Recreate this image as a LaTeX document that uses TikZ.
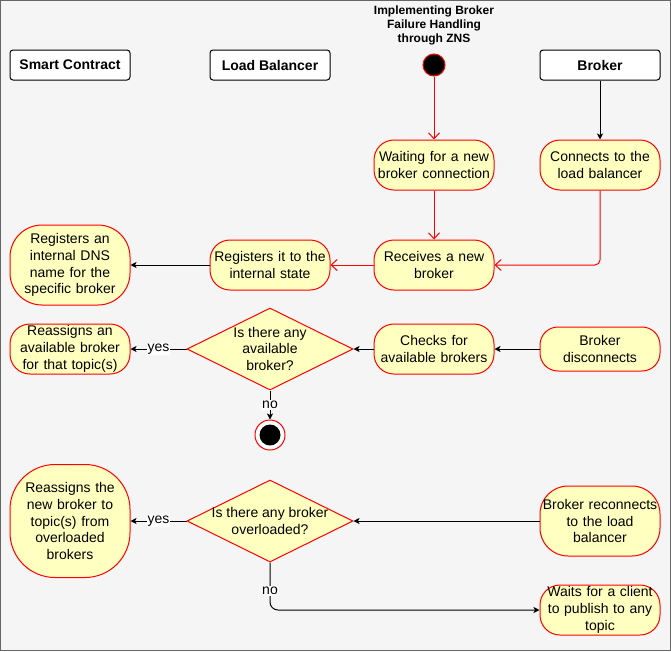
\documentclass[tikz,border=0pt]{standalone}
\usepackage{fontspec}
\setmainfont{Liberation Sans}
\usepackage{xcolor}
\usetikzlibrary{positioning,shapes.geometric,arrows.meta}
\definecolor{actfill}{HTML}{FFFFC0}
\definecolor{bgfill}{HTML}{F5F5F5}
\definecolor{framegray}{HTML}{666666}
\newcommand{\dtext}[1]{\smash{\raisebox{-3.5pt}{\parbox[c]{140pt}{\centering #1}}}}

\begin{document}
\begin{tikzpicture}[x=1pt,y=-1pt,line width=1pt,
act/.style={draw=red,fill=actfill,rectangle,rounded corners=20pt,minimum width=120pt,
    minimum height=50pt,text width=118pt,align=center,inner sep=0pt,
    font=\fontsize{14}{16.8}\selectfont},
lane/.style={draw=black,fill=white,rectangle,rounded corners=3pt,minimum width=120pt,
    minimum height=30pt,inner sep=0pt,font=\bfseries\fontsize{14}{16.8}\selectfont},
decision/.style={draw=red,fill=actfill,diamond,shape aspect=2,minimum width=166pt,
    minimum height=82pt,inner sep=0pt,font=\fontsize{14}{16.8}\selectfont},
flow/.style={draw=red,-{Straight Barb[length=6pt,width=11pt,line width=1pt]}},
link/.style={draw=black,-{Stealth[length=6pt,width=6pt,inset=1.5pt]}},
edgelabel/.style={fill=white,inner sep=1pt,font=\fontsize{14}{16.8}\selectfont}]
\useasboundingbox (0,0) rectangle (671,651);
\fill[bgfill] (0,0) rectangle (671,651);
\draw[framegray] (0.5,0.5) rectangle (670.5,650.5);

% swimlane headers
\node (contract) [lane] at (70,65) {Smart Contract};
\node (balancer) [lane] at (270,65) {Load Balancer};
\node (broker) [lane] at (600,65) {Broker};
\node (title) [align=center,font=\bfseries\fontsize{12}{14}\selectfont] at (434,25)
    {Implementing Broker\\Failure Handling\\through ZNS};
\node (start) [circle,draw=red,fill=black,minimum size=22pt,inner sep=0pt] at (434,65) {};

% activities
\node (wait) [act] at (434,165) {Waiting for a new\\broker connection};
\node (connect) [act] at (600,165) {Connects to the\\load balancer};
\node (receive) [act] at (434,265) {Receives a new\\broker};
\node (register) [act] at (270,265) {Registers it to the\\internal state};
\node (dns) [act,minimum height=80pt,rounded corners=32pt] at (70,265)
    {Registers an\\internal DNS\\name for the\\specific broker};
\node (available) [decision] at (270,349) {\dtext{Is there any\\available\\broker?}};
\node (reassign) [act] at (70,349) {Reassigns an\\available broker\\for that topic(s)};
\node (check) [act] at (434,349) {Checks for\\available brokers};
\node (disconnect) [act,minimum height=44pt,rounded corners=18pt] at (600,349)
    {Broker\\disconnects};
\node (stop) [circle,draw=red,fill=white,minimum size=30pt,inner sep=0pt,
    path picture={\fill[black] (path picture bounding box.center) circle (10.5pt);}]
    at (270,435) {};
\node (overload) [decision] at (270,521) {\dtext{Is there any broker\\overloaded?}};
\node (renew) [act,minimum height=113pt,rounded corners=45pt] at (70,521)
    {Reassigns the\\new broker to\\topic(s) from\\overloaded\\brokers};
\node (reconnect) [act,minimum height=70pt,rounded corners=28pt] at (600,521)
    {Broker reconnects\\to the load\\balancer};
\node (client) [act] at (600,610) {Waits for a client\\to publish to any\\topic};

% connectors
\draw[flow] (start) -- (wait);
\draw[flow] (wait) -- (receive);
\draw[flow,rounded corners=5pt] (connect.south) |- (receive.east);
\draw[flow] (receive) -- (register);
\draw[link] (broker) -- (connect);
\draw[link] (register) -- (dns);
\draw[link] (disconnect) -- (check);
\draw[link] (check) -- (available);
\draw[link] (available) -- node[edgelabel] {yes} (reassign);
\draw[link] (available) -- node[edgelabel] {no} (stop);
\draw[link] (reconnect) -- (overload);
\draw[link] (overload) -- node[edgelabel] {yes} (renew);
\draw[link,rounded corners=8pt] (overload.south) |- node[edgelabel,pos=0.3] {no} (client.west);
\end{tikzpicture}
\end{document}
